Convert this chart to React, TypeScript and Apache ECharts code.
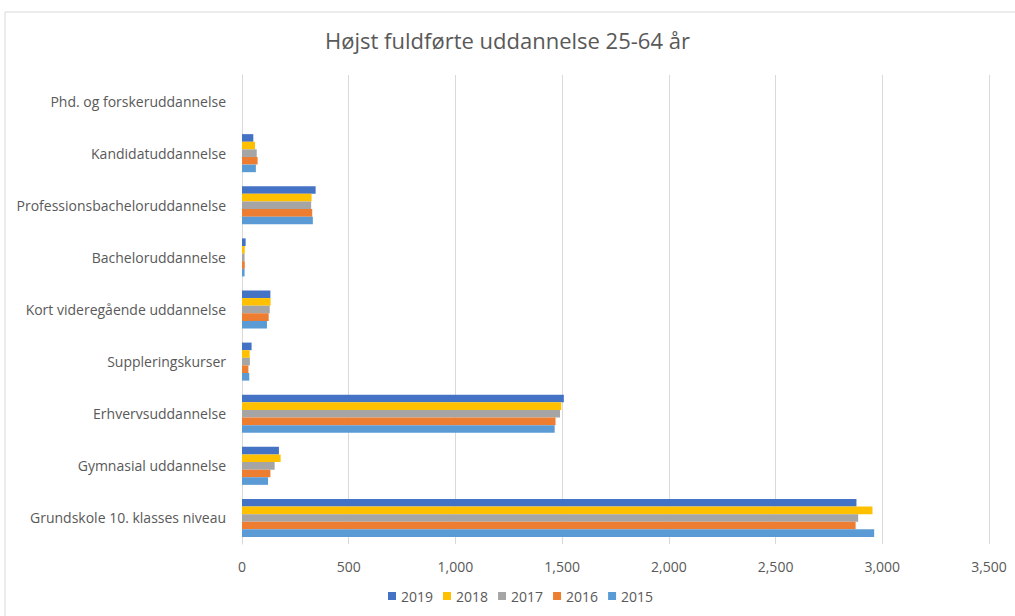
import React, { useEffect, useRef } from "react";
import * as echarts from "echarts";

const categories = [
  "Grundskole 10. klasses niveau",
  "Gymnasial uddannelse",
  "Erhvervsuddannelse",
  "Suppleringskurser",
  "Kort videregående uddannelse",
  "Bacheloruddannelse",
  "Professionsbacheloruddannelse",
  "Kandidatuddannelse",
  "Phd. og forskeruddannelse",
];

const years = ["2019", "2018", "2017", "2016", "2015"];

const values2015 = [2962, 122, 1465, 34, 117, 12, 332, 65, 0];
const values2016 = [2875, 133, 1469, 30, 125, 13, 329, 73, 0];
const values2017 = [2887, 153, 1490, 37, 130, 12, 324, 69, 0];
const values2018 = [2954, 181, 1496, 36, 134, 13, 326, 61, 0];
const values2019 = [2879, 173, 1508, 45, 133, 17, 345, 53, 0];

const seriesValues = [values2019, values2018, values2017, values2016, values2015];
const colors = ["#4472C4", "#FFC000", "#A5A5A5", "#ED7D31", "#5B9BD5"];

const xTicks = { min: 0, max: 3500, interval: 500 };

const FONT = "'Open Sans', sans-serif";
const TEXT = "#595959";

export default function App() {
  const ref = useRef<HTMLDivElement>(null);
  useEffect(() => {
    if (!ref.current) return;
    const chart = echarts.init(ref.current, null, { renderer: "svg" });
    chart.setOption({
      animation: false,
      backgroundColor: "#ffffff",
      textStyle: { fontFamily: FONT, color: TEXT },
      title: {
        text: "Højst fuldførte uddannelse 25-64 år",
        left: "center",
        top: 24,
        textStyle: { fontFamily: FONT, fontSize: 22, fontWeight: "normal", color: TEXT },
      },
      graphic: [
        {
          type: "rect",
          shape: { x: 5, y: 12, width: 1030, height: 640 },
          style: { fill: "none", stroke: "#d9d9d9", lineWidth: 1 },
          silent: true,
        },
      ],
      legend: {
        data: years,
        bottom: 8,
        left: 383,
        icon: "rect",
        itemWidth: 8,
        itemHeight: 8,
        itemGap: 10,
        textStyle: { fontFamily: FONT, fontSize: 14, color: TEXT },
      },
      grid: { left: 242, right: 26, top: 75, bottom: 72 },
      xAxis: {
        type: "value",
        min: xTicks.min,
        max: xTicks.max,
        interval: xTicks.interval,
        axisLine: { show: false },
        axisTick: { show: false },
        splitLine: { lineStyle: { color: "#d9d9d9", width: 1 } },
        axisLabel: {
          fontFamily: FONT,
          fontSize: 14,
          color: TEXT,
          margin: 15,
          formatter: (v: number) => v.toLocaleString("en-US"),
        },
      },
      yAxis: {
        type: "category",
        data: categories,
        axisLine: { show: true, lineStyle: { color: "#d9d9d9" } },
        axisTick: { show: false },
        axisLabel: { fontFamily: FONT, fontSize: 14, color: TEXT, margin: 16 },
      },
      series: years.map((y, i) => ({
        name: y,
        type: "bar",
        data: seriesValues[i],
        itemStyle: { color: colors[i] },
        barGap: "0%",
        barCategoryGap: "27%",
      })),
    });
    return () => chart.dispose();
  }, []);
  return (
    <div
      ref={ref}
      style={{ position: "absolute", left: 0, top: 0, width: 1015, height: 616 }}
    />
  );
}
